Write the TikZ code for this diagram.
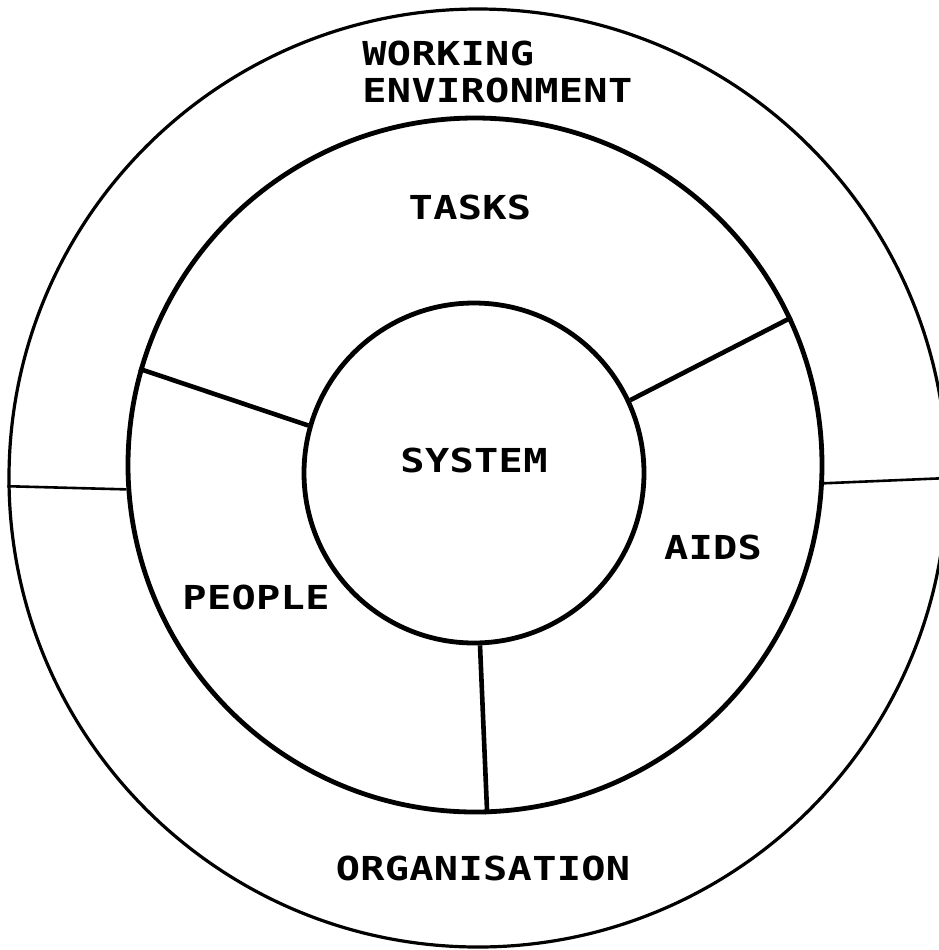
\documentclass[tikz,border=0pt]{standalone}
\usepackage{fontspec}
\usetikzlibrary{arrows.meta,positioning}
\newfontfamily\plotfont[FakeStretch=1.22,LetterSpace=1]{DejaVu Sans Mono}

\tikzset{
  ring/.style={draw, circle, inner sep=0pt},
  lbl/.style={font=\plotfont\bfseries\fontsize{16.5}{18.5}\selectfont, inner sep=0pt},
}

\begin{document}
\begin{tikzpicture}[>=Latex,x=0.5pt,y=-0.5pt]
    \useasboundingbox (0,0) rectangle (939,950);
    \clip (0,0) rectangle (939,950);

    % rings
    \node[ring, line width=1.6pt, minimum size=469pt] (outer) at (478,478) {};
    \node[ring, line width=2.4pt, minimum size=347pt] (mid) at (475,465) {};
    \node[ring, line width=2.4pt, minimum size=170pt] (inner) at (474,473) {};

    % spokes
    \draw[line width=2.3pt] (inner.164) -- (mid.164);
    \draw[line width=2.3pt] (inner.25) -- (mid.25);
    \draw[line width=2.3pt] (inner.-88) -- (mid.-88);
    \draw[line width=1.3pt] (mid.184) -- (outer.181.5);
    \draw[line width=1.3pt] (mid.-3) -- (outer.-0.3);

    \node[lbl, anchor=north west, align=left] (env) at (362,41) {WORKING\\ENVIRONMENT};
    \node[lbl] (tasks) at (470,207) {TASKS};
    \node[lbl] (system) at (474,460) {SYSTEM};
    \node[lbl] (aids) at (713,547) {AIDS};
    \node[lbl] (people) at (256,597) {PEOPLE};
    \node[lbl] (org) at (483,868) {ORGANISATION};
\end{tikzpicture}
\end{document}
